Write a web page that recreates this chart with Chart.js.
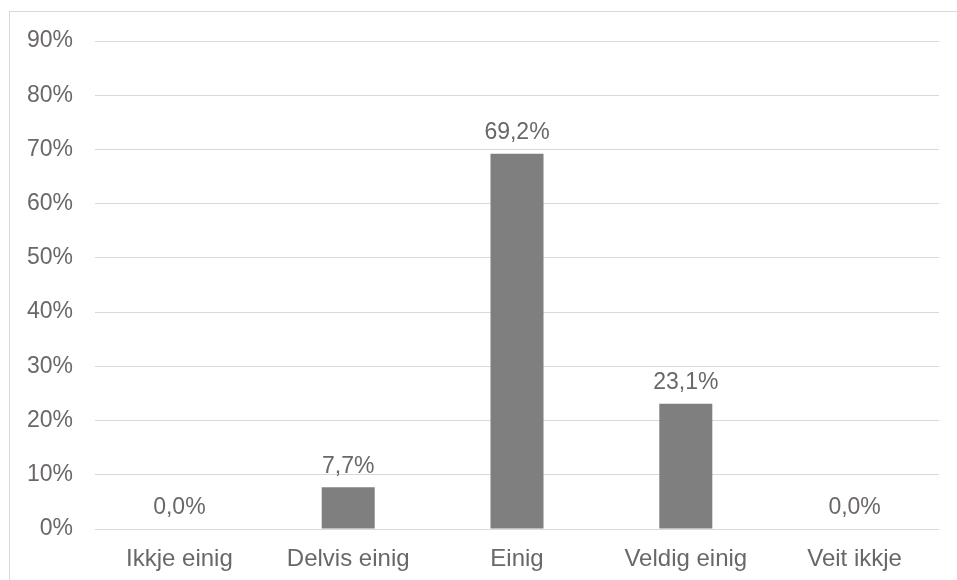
<!DOCTYPE html>
<html>
<head>
<meta charset="utf-8">
<script src="https://cdn.jsdelivr.net/npm/chart.js@4"></script>
<style>
html, body { margin: 0; padding: 0; background: #fff; overflow: hidden; }
#frame { position: absolute; left: 9px; top: 11px; width: 1000px; height: 640px; border: 1px solid #d9d9d9; }
#wrap { position: absolute; left: 0; top: 0; width: 957px; height: 580px; }
</style>
</head>
<body>
<div id="frame"></div>
<div id="wrap"><canvas id="chart"></canvas></div>
<script>
var categories = ['Ikkje einig', 'Delvis einig', 'Einig', 'Veldig einig', 'Veit ikkje'];
var values = [0.0, 7.7, 69.2, 23.1, 0.0];

var text_color = '#6b6767';
var font_family = '"Liberation Sans", Arial, sans-serif';

function fmt_pct(v)
{
    return v.toFixed(1).replace('.', ',') + '%';
}

// draw value labels above each bar
var bar_labels = {
    id: 'bar_labels',
    afterDatasetsDraw: function(chart) {
        var ctx = chart.ctx;
        var meta = chart.getDatasetMeta(0);
        ctx.save();
        ctx.font = '23px ' + font_family;
        ctx.fillStyle = text_color;
        ctx.textAlign = 'center';
        ctx.textBaseline = 'middle';
        meta.data.forEach(function(bar, i) {
            ctx.fillText(fmt_pct(values[i]), bar.x, bar.y - 21);
        });
        ctx.restore();
    }
};

const chart = new Chart(document.getElementById('chart'), {
    type: 'bar',
    data: {
        labels: categories,
        datasets: [{
            label: 'Andel',
            data: values,
            backgroundColor: '#7f7f7f',
            borderWidth: 0,
            barPercentage: 0.314,
            categoryPercentage: 1.0
        }]
    },
    options: {
        responsive: true,
        maintainAspectRatio: false,
        animation: false,
        layout: { padding: { top: 41, right: 18, left: 0, bottom: 0 } },
        plugins: {
            legend: { display: false },
            tooltip: { enabled: false }
        },
        scales: {
            x: {
                grid: { display: false, drawTicks: false },
                border: { display: false },
                ticks: {
                    color: text_color,
                    font: { family: font_family, size: 24 },
                    padding: 16,
                    maxRotation: 0
                },
                afterFit: function(scale) { scale.height = 51; }
            },
            y: {
                min: 0,
                max: 90,
                grid: { color: '#d9d9d9', lineWidth: 1, drawTicks: false },
                border: { display: false },
                ticks: {
                    stepSize: 10,
                    color: text_color,
                    font: { family: font_family, size: 23 },
                    padding: 22,
                    callback: function(v) { return v + '%'; }
                },
                afterFit: function(scale) { scale.width = 95; }
            }
        }
    },
    plugins: [bar_labels]
});
</script>
</body>
</html>
